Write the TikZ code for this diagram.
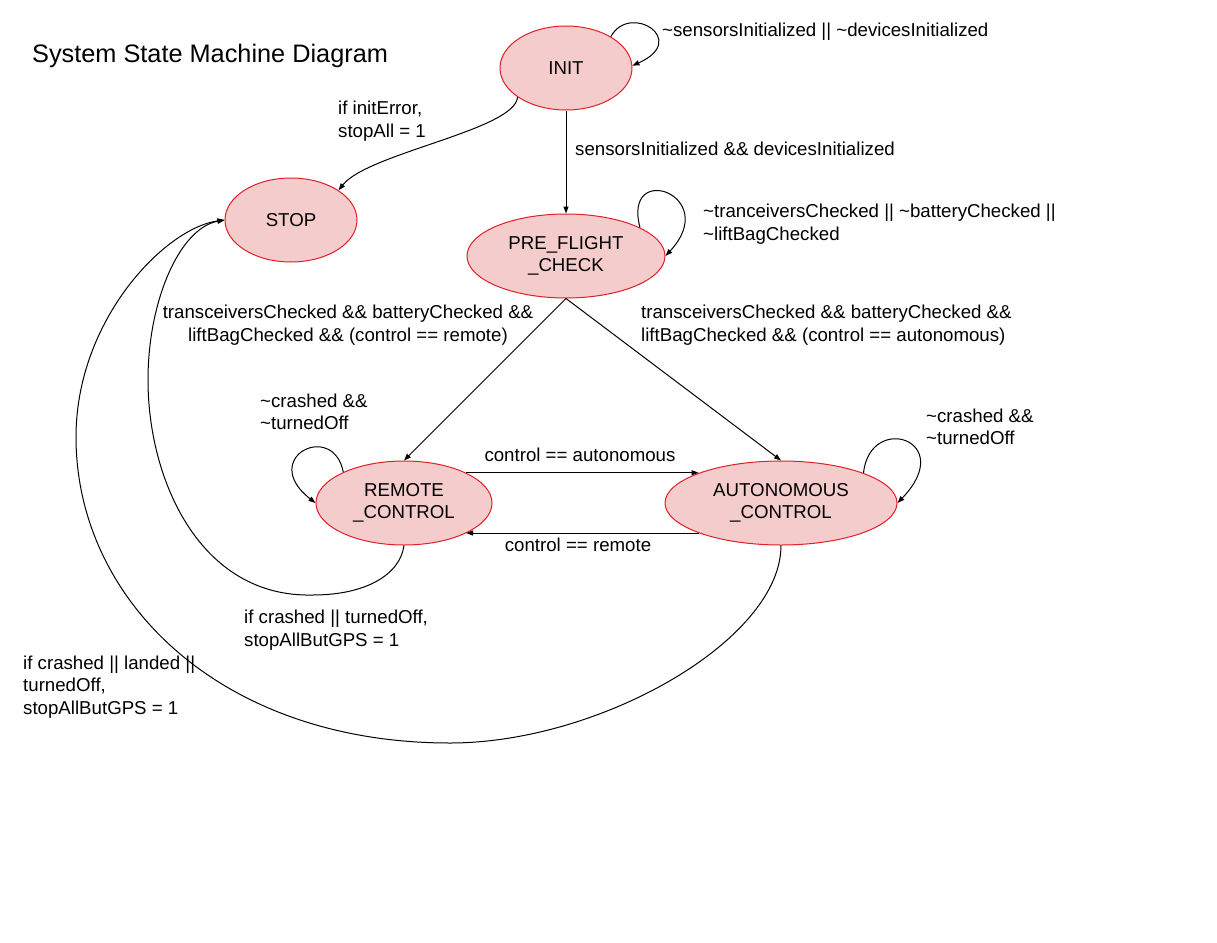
\documentclass[tikz,border=0pt]{standalone}
\usepackage{fontspec}
\setmainfont{Liberation Sans}
\usetikzlibrary{shapes.geometric,arrows.meta}
\definecolor{statefill}{RGB}{244,204,204}
\definecolor{stateline}{RGB}{226,30,40}
\begin{document}
\begin{tikzpicture}[x=1pt,y=-1pt,
  state/.style={ellipse, draw=stateline, fill=statefill, line width=1pt,
    inner sep=0pt, align=center, font=\fontsize{18.67}{22}\selectfont},
  lbl/.style={inner sep=0pt, font=\fontsize{18.67}{22.5}\selectfont},
  tr/.style={draw=black, line width=1pt, -{Triangle[length=7pt,width=5pt]}},
]
\useasboundingbox[fill=white] (0,0) rectangle (1217,942);

% title
\node[inner sep=0pt, anchor=west, font=\fontsize{25.3}{29}\selectfont] (title) at (32,56) {System State Machine Diagram};

% states
\node[state, minimum width=132pt, minimum height=84pt] (init)   at (566,68)  {INIT};
\node[state, minimum width=132pt, minimum height=84pt] (stop)   at (291,220) {STOP};
\node[state, minimum width=198pt, minimum height=84pt] (pre)    at (566,256) {PRE\_FLIGHT\\\_CHECK};
\node[state, minimum width=176pt, minimum height=84pt] (remote) at (404,503) {REMOTE\\\_CONTROL};
\node[state, minimum width=232pt, minimum height=84pt] (auto)   at (781,503) {AUTONOMOUS\\\_CONTROL};

% self loops
\draw[tr] (init.35) .. controls (630,2) and (690,40) .. (init.2);
\draw[tr] (pre.21) .. controls (622,160) and (722,195) .. (pre.0);
\draw[tr] (remote.153) .. controls (333,420) and (258,458) .. (remote.west);
\draw[tr] (auto.20) .. controls (870,412) and (958,440) .. (auto.east);

% transitions
\draw[tr] (init.211) .. controls (515,130) and (368,153) .. (stop.32);
\draw[tr] (init.south) -- (pre.north);
\draw[tr] (pre.south) -- (remote.north);
\draw[tr] (pre.south) -- (auto.north);
\draw[tr] (remote.26) -- (remote.26 -| auto.160);
\draw[tr] (auto.200) -- (auto.200 -| remote.334);
\draw[tr] (remote.south) .. controls (400,575) and (365,595) .. (313,595)
  .. controls (200,598) and (148,480) .. (148,380)
  .. controls (148,300) and (180,228) .. (stop.west);
\draw[tr] (auto.south) .. controls (781,640) and (600,743) .. (450,743)
  .. controls (220,743) and (76,600) .. (76,437)
  .. controls (76,320) and (165,228) .. (stop.west);

% transition labels
\node[lbl, anchor=west] (l1) at (662,32) {\textasciitilde sensorsInitialized || \textasciitilde devicesInitialized};
\node[lbl, anchor=west, align=left] (l2) at (338,121) {if initError,\\stopAll = 1};
\node[lbl, anchor=west] (l3) at (575,149) {sensorsInitialized \&\& devicesInitialized};
\node[lbl, anchor=west, align=left] (l4) at (703,224) {\textasciitilde tranceiversChecked || \textasciitilde batteryChecked ||\\\textasciitilde liftBagChecked};
\node[lbl, align=center] (l5) at (348,325) {transceiversChecked \&\& batteryChecked \&\&\\liftBagChecked \&\& (control == remote)};
\node[lbl, anchor=west, align=left] (l6) at (641,325) {transceiversChecked \&\& batteryChecked \&\&\\liftBagChecked \&\& (control == autonomous)};
\node[lbl, anchor=west, align=left] (l7) at (260,412) {\textasciitilde crashed \&\&\\\textasciitilde turnedOff};
\node[lbl, anchor=west, align=left] (l8) at (926,427) {\textasciitilde crashed \&\&\\\textasciitilde turnedOff};
\node[lbl] (l9) at (580,455) {control == autonomous};
\node[lbl] (l10) at (578,545) {control == remote};
\node[lbl, anchor=west, align=left] (l11) at (244,630) {if crashed || turnedOff,\\stopAllButGPS = 1};
\node[lbl, anchor=west, align=left] (l12) at (23,687) {if crashed || landed ||\\turnedOff,\\stopAllButGPS = 1};
\end{tikzpicture}
\end{document}
